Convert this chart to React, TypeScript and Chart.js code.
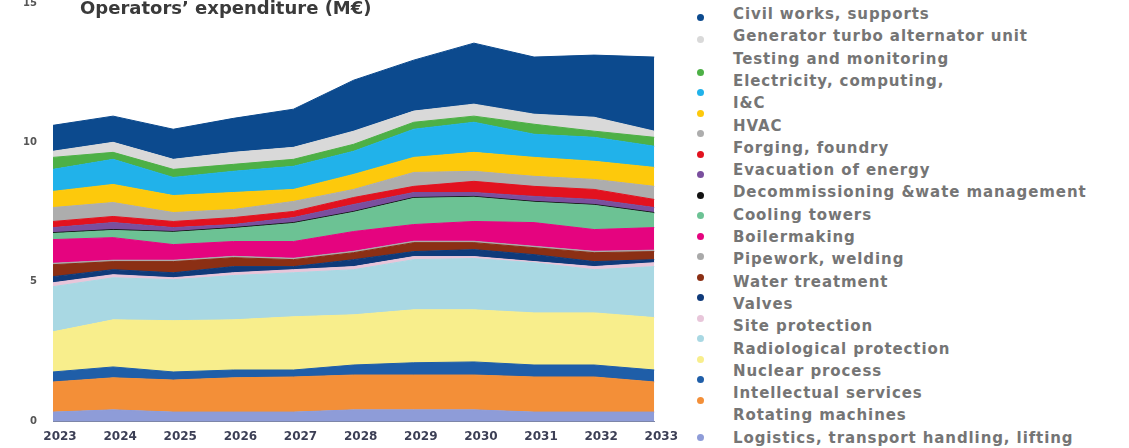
import React, { useEffect, useRef } from "react";
import { Chart, registerables } from "chart.js";

Chart.register(...registerables);

const years = ["2023", "2024", "2025", "2026", "2027", "2028", "2029", "2030", "2031", "2032", "2033"];
const yMin = 0;
const yMax = 15;
const yStep = 5;
const chartTitle = "Operators\u2019 expenditure (M\u20AC)";

// Series values (M€), stacked from bottom to top
const logistics = [0.32, 0.4, 0.32, 0.32, 0.32, 0.4, 0.4, 0.4, 0.32, 0.32, 0.32];
const rotatingMachines = [1.08, 1.15, 1.15, 1.23, 1.26, 1.25, 1.25, 1.25, 1.26, 1.26, 1.08];
const intellectualServices = [0.36, 0.39, 0.29, 0.28, 0.25, 0.36, 0.44, 0.47, 0.43, 0.43, 0.43];
const nuclearProcess = [1.44, 1.69, 1.84, 1.8, 1.91, 1.8, 1.9, 1.87, 1.87, 1.87, 1.88];
const radiologicalProtection = [1.62, 1.51, 1.47, 1.59, 1.58, 1.62, 1.8, 1.84, 1.8, 1.55, 1.83];
const siteProtection = [0.14, 0.11, 0.07, 0.1, 0.11, 0.11, 0.11, 0.07, 0.04, 0.11, 0.14];
const valves = [0.22, 0.18, 0.18, 0.22, 0.11, 0.25, 0.18, 0.25, 0.25, 0.18, 0.11];
const waterTreatment = [0.43, 0.29, 0.4, 0.32, 0.25, 0.25, 0.32, 0.25, 0.25, 0.32, 0.29];
const pipework = [0.05, 0.05, 0.05, 0.05, 0.05, 0.05, 0.05, 0.05, 0.05, 0.05, 0.05];
const boilermaking = [0.85, 0.81, 0.56, 0.53, 0.6, 0.71, 0.6, 0.71, 0.85, 0.78, 0.81];
const coolingTowers = [0.22, 0.26, 0.44, 0.47, 0.65, 0.69, 0.94, 0.87, 0.73, 0.87, 0.51];
const decommissioning = [0.03, 0.03, 0.03, 0.03, 0.03, 0.03, 0.03, 0.03, 0.03, 0.03, 0.03];
const evacuationEnergy = [0.18, 0.25, 0.14, 0.11, 0.18, 0.25, 0.18, 0.14, 0.18, 0.18, 0.18];
const forging = [0.22, 0.22, 0.22, 0.25, 0.22, 0.25, 0.22, 0.4, 0.36, 0.36, 0.29];
const hvac = [0.5, 0.5, 0.32, 0.29, 0.36, 0.29, 0.5, 0.36, 0.36, 0.36, 0.47];
const iAndC = [0.58, 0.65, 0.61, 0.61, 0.43, 0.54, 0.54, 0.68, 0.68, 0.65, 0.68];
const electricity = [0.79, 0.9, 0.65, 0.76, 0.83, 0.83, 1.01, 1.08, 0.83, 0.86, 0.76];
const testing = [0.43, 0.25, 0.29, 0.25, 0.25, 0.25, 0.25, 0.22, 0.36, 0.22, 0.32];
const generator = [0.22, 0.36, 0.36, 0.43, 0.43, 0.47, 0.4, 0.43, 0.36, 0.5, 0.22];
const civilWorks = [0.93, 0.94, 1.08, 1.22, 1.37, 1.83, 1.83, 2.19, 2.05, 2.23, 2.66];

const seriesNames = [
  "Logistics, transport handling, lifting",
  "Rotating machines",
  "Intellectual services",
  "Nuclear process",
  "Radiological protection",
  "Site protection",
  "Valves",
  "Water treatment",
  "Pipework, welding",
  "Boilermaking",
  "Cooling towers",
  "Decommissioning &wate management",
  "Evacuation of energy",
  "Forging, foundry",
  "HVAC",
  "I&C",
  "Electricity, computing,",
  "Testing and monitoring",
  "Generator turbo alternator unit",
  "Civil works, supports",
];

const seriesValues = [
  logistics, rotatingMachines, intellectualServices, nuclearProcess, radiologicalProtection,
  siteProtection, valves, waterTreatment, pipework, boilermaking, coolingTowers, decommissioning,
  evacuationEnergy, forging, hvac, iAndC, electricity, testing, generator, civilWorks,
];

const seriesColors = [
  "#8e9cd8", "#f38f38", "#1f5ea8", "#f8ee8c", "#a9d8e3", "#e8c6da", "#0f3a7a", "#8b2f14",
  "#a9a9a9", "#e5047f", "#6cc294", "#111111", "#7a4f9e", "#e2121f", "#adadad", "#fdc90c",
  "#21b2ea", "#4db046", "#d9d9d9", "#0c4a8e",
];

export default function App() {
  const canvasRef = useRef<HTMLCanvasElement>(null);

  useEffect(() => {
    const chart = new Chart(canvasRef.current as HTMLCanvasElement, {
      type: "line",
      data: {
        labels: years,
        datasets: seriesNames.map((name, i) => ({
          label: name,
          data: seriesValues[i],
          backgroundColor: seriesColors[i],
          borderColor: seriesColors[i],
          borderWidth: 1,
          pointRadius: 0,
          tension: 0,
          fill: i === 0 ? "origin" : "-1",
        })),
      },
      options: {
        animation: false,
        responsive: false,
        devicePixelRatio: 1,
        layout: { padding: { top: 23, right: 25, left: 0, bottom: 0 } },
        plugins: { legend: { display: false }, tooltip: { enabled: false }, title: { display: false } },
        scales: {
          x: {
            offset: false,
            grid: { display: false, drawTicks: false },
            border: { display: true, dash: [2, 2], color: "#7d86a8", width: 1 },
            ticks: {
              padding: 9,
              labelOffset: 7,
              maxRotation: 0,
              autoSkip: false,
              color: "#3c3f55",
              font: { family: "DejaVu Sans", size: 12, weight: "bold" },
            },
            afterFit: (s: any) => { s.height = 27; },
          },
          y: {
            stacked: true,
            min: yMin,
            max: yMax,
            grid: { display: false, drawTicks: false },
            border: { display: false },
            ticks: {
              stepSize: yStep,
              padding: 16,
              color: "#555555",
              font: { family: "DejaVu Sans", size: 10, weight: "bold" },
            },
            afterFit: (s: any) => { s.width = 53; },
          },
        },
      },
    });
    return () => chart.destroy();
  }, []);

  const legendNames = [...seriesNames].reverse();
  const legendColors = [...seriesColors].reverse();
  const labelY = (i: number) => 14 + i * 22.3;
  const dotY = (i: number) => (i < 2 ? labelY(i) + 3 : i === legendNames.length - 1 ? labelY(i) : 72 + (i - 2) * 20.5);

  return (
    <div style={{ position: "fixed", left: 0, top: 0, width: 1129, height: 448, background: "#ffffff", overflow: "hidden" }}>
      <canvas ref={canvasRef} width={680} height={468} style={{ position: "absolute", left: 0, top: -20, width: 680, height: 468 }} />
      <div style={{ position: "absolute", left: 80, top: -1, fontFamily: "DejaVu Sans", fontSize: 18, fontWeight: "bold", letterSpacing: "0px", lineHeight: "18px", color: "#3a3a3a", whiteSpace: "nowrap" }}>
        {chartTitle}
      </div>
      {legendNames.map((name, i) => (
        <React.Fragment key={name}>
          <div style={{ position: "absolute", left: 697, top: dotY(i) - 3.5, width: 7, height: 7, borderRadius: "50%", background: legendColors[i] }} />
          <div style={{ position: "absolute", left: 733, top: labelY(i) - 9, fontFamily: "DejaVu Sans", fontSize: 15, fontWeight: "bold", letterSpacing: "0.9px", lineHeight: "18px", color: "#757575", whiteSpace: "nowrap" }}>
            {name}
          </div>
        </React.Fragment>
      ))}
    </div>
  );
}
